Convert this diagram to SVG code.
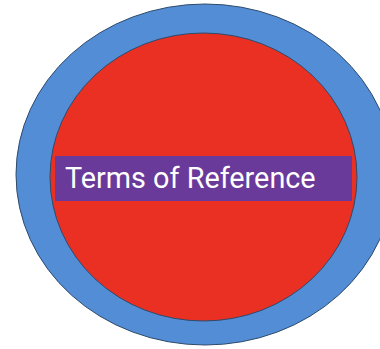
<svg xmlns="http://www.w3.org/2000/svg" width="380" height="349" viewBox="0 0 380 349">
<style>
.ring{stroke:#2e4a6b;stroke-width:1}
.label{font-family:Roboto,"Liberation Sans",sans-serif;font-size:28.8px;fill:#ffffff}
</style>
<rect width="380" height="349" fill="#ffffff"/>
<g id="outer">
<ellipse class="ring" cx="205" cy="174.5" rx="189" ry="170.5" fill="#538dd5"/>
</g>
<g id="inner">
<ellipse class="ring" cx="203.5" cy="177" rx="153.5" ry="144" fill="#e93023"/>
</g>
<g id="title">
<rect x="55" y="156" width="297" height="45" fill="#6a3a9b"/>
<text class="label" x="65" y="187.5">Terms of Reference</text>
</g>
<g id="connectors"/>
</svg>
